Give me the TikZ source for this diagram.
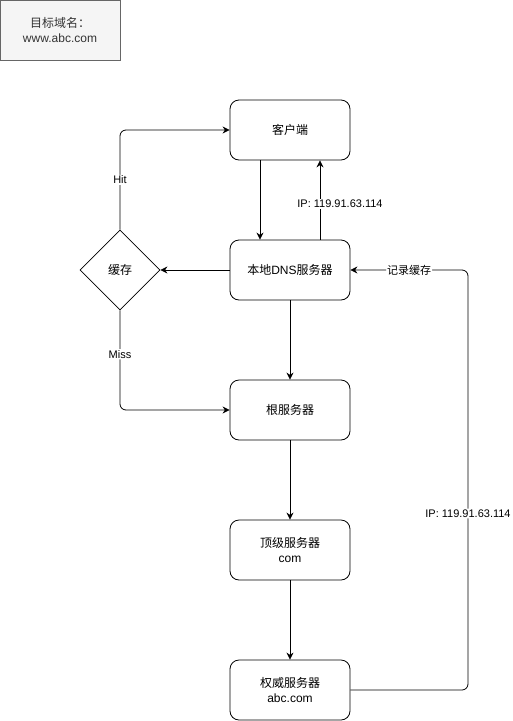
\documentclass[tikz,border=0pt]{standalone}
\usepackage{fontspec}
\setmainfont{Liberation Sans}
\newfontfamily\cjk{Noto Sans CJK SC}
\usepackage{xcolor}
\usetikzlibrary{arrows.meta,shapes.geometric}

\definecolor{notefill}{HTML}{F5F5F5}
\definecolor{noteline}{HTML}{666666}
\definecolor{notetext}{HTML}{333333}

\begin{document}
\begin{tikzpicture}[x=1pt, y=-1pt,
  server/.style={draw, rounded corners=9pt, minimum width=120pt,
                 minimum height=60pt, line width=0.8pt, align=center,
                 font=\fontsize{12}{15}\selectfont},
  decide/.style={draw, diamond, aspect=1, inner sep=0pt,
                 minimum width=80pt, minimum height=80pt, line width=0.8pt,
                 font=\fontsize{12}{15}\selectfont},
  flow/.style={-{Stealth[length=7pt, width=7pt]}, line width=0.8pt},
  tag/.style={fill=white, inner sep=1pt, font=\fontsize{11}{13}\selectfont}
]
  \path[use as bounding box] (0,0) rectangle (512,721);
  % note box
  \node[draw=noteline, fill=notefill, text=notetext, minimum width=120pt,
        minimum height=60pt, line width=0.8pt, align=center,
        font=\fontsize{12}{15}\selectfont] (note) at (60,30)
        {{\cjk 目标域名：}\\www.abc.com};
  % servers
  \node[server] (client) at (290,130) {\cjk 客户端};
  \node[server] (localdns) at (290,270) {{\cjk 本地}DNS{\cjk 服务器}};
  \node[decide] (cache) at (120,270) {\cjk 缓存};
  \node[server] (root) at (290,410) {\cjk 根服务器};
  \node[server] (tld) at (290,550) {{\cjk 顶级服务器}\\com};
  \node[server] (auth) at (290,690) {{\cjk 权威服务器}\\abc.com};
  \coordinate (ret) at (468,270);
  % edges
  \draw[flow] ([xshift=-30pt]client.south) -- ([xshift=-30pt]localdns.north);
  \draw[flow] ([xshift=30pt]localdns.north) -- ([xshift=30pt]client.south)
    node[tag, pos=0.45, xshift=20pt] {IP: 119.91.63.114};
  \draw[flow] (localdns.west) -- (cache.east);
  \draw[flow, rounded corners=6pt] (cache.north) |- (client.west)
    node[tag, pos=0.25] {Hit};
  \draw[flow, rounded corners=6pt] (cache.south) |- (root.west)
    node[tag, pos=0.22] {Miss};
  \draw[flow] (localdns.south) -- (root.north);
  \draw[flow] (root.south) -- (tld.north);
  \draw[flow] (tld.south) -- (auth.north);
  \draw[flow, rounded corners=6pt] (auth.east) -| (ret)
    node[tag, pos=0.71] {IP: 119.91.63.114}
    -- (localdns.east) node[tag, midway] {\cjk 记录缓存};
\end{tikzpicture}
\end{document}
